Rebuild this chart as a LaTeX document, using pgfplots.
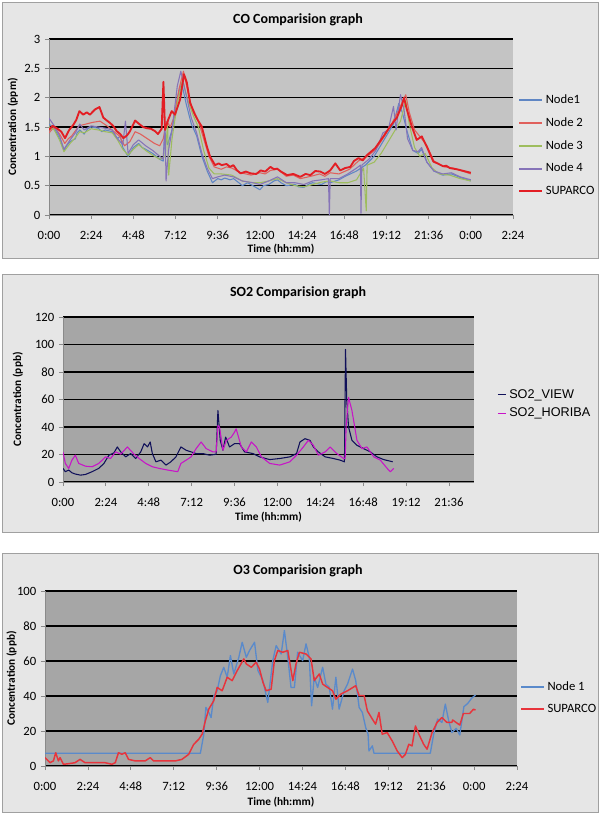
\documentclass[border=0pt]{standalone}
\usepackage{fontspec}
\setmainfont{Carlito}
\newfontfamily\arialf{Liberation Sans}
\usepackage{pgfplots}
\pgfplotsset{compat=1.18}

\definecolor{framebg}{HTML}{E6E6E6}
\definecolor{framebd}{HTML}{A0A0A0}
\definecolor{plotlight}{HTML}{C4C4C4}
\definecolor{plotdark}{HTML}{A6A6A6}
\definecolor{axgray}{HTML}{8A8A8A}
\definecolor{cnode1}{HTML}{5F86C4}
\definecolor{cnode2}{HTML}{E0605C}
\definecolor{cnode3}{HTML}{9EBD5E}
\definecolor{cnode4}{HTML}{8674B8}
\definecolor{csup}{HTML}{E31E24}
\definecolor{cview}{HTML}{10105A}
\definecolor{choriba}{HTML}{C814C8}
\definecolor{oblue}{HTML}{5A8ACB}
\definecolor{ored}{HTML}{E8343C}

\pgfplotsset{
  excelpanel/.style={
    scale only axis, anchor=south west,
    axis x line*=bottom, axis y line*=left,
    axis line style={draw=axgray, line width=0.6pt},
    tick style={draw=axgray, line width=0.6pt},
    tick align=outside, major tick length=3pt,
    ymajorgrids, grid style={black, line width=0.8pt},
    ticklabel style={font=\fontsize{9.5}{11}\selectfont},
    xticklabel style={yshift=-5.5pt},
    xlabel={Time (hh:mm)},
    label style={font=\fontsize{8.5}{10}\selectfont\bfseries},
    xlabel style={anchor=center},
    legend cell align=left,
    legend style={draw=none, fill=none, anchor=north west, inner sep=0pt,
      font=\fontsize{9.5}{11}\selectfont, row sep=5pt},
    legend image post style={line width=1.5pt},
    every axis plot/.append style={no markers, line join=round},
  },
  xhours/.style={
    xtick={0,2.4,4.8,7.2,9.6,12,14.4,16.8,19.2,21.6,24,26.4},
    xticklabels={0:00,2:24,4:48,7:12,9:36,12:00,14:24,16:48,19:12,21:36,0:00,2:24},
  },
}

\begin{document}
\begin{tikzpicture}[x=0.75pt,y=0.75pt]
\useasboundingbox (0,0) rectangle (600,-814);
\fill[white] (0,0) rectangle (600,-814);
\draw[framebd, fill=framebg, line width=0.75pt] (2,-2) rectangle (598,-258);
\draw[framebd, fill=framebg, line width=0.75pt] (2,-274) rectangle (598,-532);
\draw[framebd, fill=framebg, line width=0.75pt] (2,-553) rectangle (598,-812);
\coordinate (p1) at (49,-215);
\coordinate (p2) at (63,-482);
\coordinate (p3) at (45,-766);
\node[font=\fontsize{10.5}{12}\selectfont\bfseries] at (298,-20) {CO Comparision graph};
\node[font=\fontsize{10.5}{12}\selectfont\bfseries] at (298,-293) {SO2 Comparision graph};
\node[font=\fontsize{10.5}{12}\selectfont\bfseries] at (298,-571) {O3 Comparision graph};

% ---------------- CO ----------------
\begin{axis}[excelpanel, xhours, at={(p1)}, width=348pt, height=132pt,
  xmin=0, xmax=26.4, ymin=0, ymax=3,
  axis background/.style={fill=plotlight},
  ytick={0,0.5,1,1.5,2,2.5,3}, yticklabels={0,0.5,1,1.5,2,2.5,3},
  ylabel={Concentration (ppm)},
  ylabel style={at={(axis description cs:-0.078,0.5)}, anchor=center},
  xlabel style={at={(axis description cs:0.5,-0.193)}},
  legend style={at={(1.011,0.70)}}]
\addplot[cnode1, line width=0.8pt] coordinates {
(0,1.55)(0.3,1.48)(0.6,1.30)(0.85,1.10)(1.0,1.18)(1.2,1.25)(1.5,1.30)(1.6,1.40)(1.75,1.45)(2.0,1.38)(2.2,1.47)(2.4,1.50)(2.8,1.48)
(3.0,1.42)(3.2,1.45)(3.6,1.42)(3.9,1.30)(4.05,1.35)(4.2,1.15)(4.5,1.00)(4.8,1.15)(5.1,1.22)(5.3,1.15)(5.5,1.12)(5.9,1.05)(6.1,1.00)(6.3,0.95)
(6.5,0.92)(6.6,1.40)(6.75,1.20)(7.0,1.45)(7.3,2.00)(7.55,2.25)(7.8,1.90)(8.1,1.55)(8.4,1.35)(8.7,1.00)
(9.0,0.75)(9.3,0.55)(9.6,0.62)(9.8,0.60)(10.0,0.63)(10.3,0.60)(10.5,0.62)(10.8,0.55)(11.0,0.50)(11.3,0.55)(11.6,0.50)(12.0,0.43)(12.2,0.50)(12.5,0.52)(12.8,0.58)(13.0,0.60)
(13.2,0.55)(13.5,0.50)(14.0,0.52)(14.2,0.48)(14.5,0.47)(14.8,0.53)(15.0,0.55)(15.5,0.52)(15.8,0.57)(16.0,0.55)(16.5,0.60)(16.8,0.65)(17.0,0.68)(17.5,0.75)(18.0,0.85)
(18.5,1.00)(19.0,1.25)(19.3,1.40)(19.6,1.55)(19.9,1.90)(20.1,1.75)(20.4,1.40)(20.7,1.10)(21.0,1.05)(21.2,1.12)
(21.5,0.90)(21.9,0.75)(22.4,0.68)(22.9,0.70)(23.4,0.64)(24,0.58)};
\addlegendentry{Node1}
\addplot[cnode2, line width=0.8pt] coordinates {
(0,1.40)(0.3,1.50)(0.6,1.38)(0.9,1.22)(1.1,1.30)(1.3,1.35)(1.7,1.52)(2.1,1.55)(2.5,1.58)(2.9,1.60)(3.3,1.52)
(3.7,1.42)(4.0,1.35)(4.3,1.18)(4.6,1.25)(4.9,1.42)(5.2,1.38)(5.6,1.30)(6.0,1.22)(6.3,1.18)(6.5,1.30)
(6.7,1.60)(6.9,1.50)(7.1,1.65)(7.4,2.15)(7.65,2.45)(7.9,2.10)(8.2,1.75)(8.5,1.60)(8.8,1.30)(9.1,1.00)
(9.4,0.82)(9.8,0.78)(10.1,0.82)(10.4,0.80)(10.9,0.72)(11.5,0.68)(12.0,0.72)(12.3,0.70)(12.6,0.76)(13.0,0.78)(13.5,0.66)(13.9,0.68)(14.3,0.62)
(14.9,0.66)(15.4,0.70)(15.7,0.66)(16.0,0.72)(16.5,0.70)(17.1,0.78)(17.6,0.92)(18.1,1.00)(18.6,1.12)(19.1,1.35)(19.5,1.55)
(19.9,1.80)(20.3,2.05)(20.5,1.75)(20.8,1.45)(21.2,1.30)(21.5,1.18)(21.9,0.92)(22.5,0.82)(23.0,0.80)(23.5,0.75)(24,0.70)};
\addlegendentry{Node 2}
\addplot[cnode3, line width=0.8pt] coordinates {
(0,1.50)(0.3,1.45)(0.6,1.28)(0.85,1.08)(1.2,1.22)(1.5,1.32)(1.75,1.42)(2.0,1.40)(2.4,1.47)(2.8,1.45)
(3.2,1.42)(3.6,1.40)(3.9,1.28)(4.2,1.12)(4.5,1.02)(4.8,1.12)(5.1,1.20)(5.5,1.10)(5.9,1.02)(6.3,0.95)
(6.6,1.00)(6.75,1.55)(6.81,0.68)(7.0,1.30)(7.3,1.90)(7.6,2.30)(7.9,1.95)(8.2,1.70)(8.5,1.50)(8.8,1.10)
(9.1,0.80)(9.4,0.70)(9.8,0.70)(10.4,0.68)(11.0,0.58)(11.6,0.55)(12.0,0.55)(12.5,0.58)(13.0,0.62)(13.5,0.55)
(14.0,0.50)(14.5,0.48)(15.0,0.52)(15.5,0.56)(16.0,0.58)(16.5,0.55)(17.0,0.55)(17.5,0.60)(17.9,0.80)(18.05,0.07)
(18.1,0.85)(18.5,0.90)(18.9,1.05)(19.3,1.25)(19.7,1.45)(20.0,1.60)(20.3,1.95)(20.5,1.55)(20.8,1.15)(21.1,1.00)
(21.4,1.05)(21.8,0.80)(22.2,0.70)(22.8,0.68)(23.4,0.62)(24,0.58)};
\addlegendentry{Node 3}
\addplot[cnode4, line width=0.8pt] coordinates {
(0,1.65)(0.3,1.52)(0.6,1.35)(0.85,1.12)(1.2,1.28)(1.5,1.40)(1.75,1.55)(2.0,1.45)(2.4,1.52)(2.8,1.50)
(3.2,1.48)(3.6,1.45)(3.9,1.30)(4.2,1.20)(4.35,1.60)(4.5,1.05)(4.8,1.20)(5.1,1.28)(5.5,1.18)(5.9,1.10)
(6.3,1.00)(6.5,0.95)(6.6,1.60)(6.66,0.58)(6.8,1.10)(7.0,1.45)(7.3,2.20)(7.5,2.45)(7.8,2.05)(8.1,1.65)
(8.4,1.40)(8.7,1.05)(9.0,0.80)(9.3,0.62)(9.6,0.65)(10.0,0.68)(10.5,0.65)(11.0,0.58)(11.6,0.55)(12.0,0.52)
(12.5,0.58)(13.0,0.65)(13.5,0.55)(14.0,0.55)(14.5,0.52)(15.0,0.58)(15.5,0.60)(15.9,0.62)(15.95,0.0)(16.0,0.62)
(16.5,0.62)(17.0,0.70)(17.5,0.80)(17.72,0.85)(17.75,0.03)(17.8,0.85)(18.2,0.95)(18.6,1.10)(19.0,1.40)(19.3,1.45)
(19.6,1.85)(19.75,1.45)(19.9,1.85)(20.0,2.05)(20.2,1.80)(20.4,1.30)(20.7,1.10)(21.0,1.08)(21.2,1.15)(21.5,0.90)
(21.9,0.75)(22.4,0.70)(22.9,0.72)(23.4,0.65)(24,0.60)};
\addlegendentry{Node 4}
\addplot[csup, line width=1.4pt] coordinates {
(0,1.45)(0.2,1.52)(0.44,1.48)(0.7,1.42)(0.91,1.31)(1.15,1.45)(1.39,1.54)(1.55,1.62)(1.73,1.77)(1.95,1.71)(2.15,1.75)(2.33,1.71)(2.62,1.80)(2.87,1.84)(3.09,1.66)
(3.25,1.62)(3.47,1.57)(3.65,1.52)(3.85,1.43)(4.05,1.38)(4.23,1.31)(4.45,1.36)(4.61,1.43)(4.90,1.61)(5.18,1.54)(5.35,1.50)(5.56,1.48)(5.8,1.47)(6.03,1.43)(6.2,1.38)(6.41,1.47)(6.51,2.27)
(6.60,1.45)(6.79,1.63)(6.98,1.77)(7.17,1.71)(7.46,1.97)(7.68,2.40)(7.84,2.26)(8.03,1.91)(8.31,1.71)(8.5,1.60)(8.69,1.51)
(8.98,1.17)(9.17,0.99)(9.45,0.85)(9.65,0.88)(9.83,0.85)(10.1,0.87)(10.3,0.82)(10.49,0.85)(10.7,0.76)(10.9,0.71)(11.2,0.74)(11.47,0.71)(11.8,0.70)
(12.04,0.76)(12.3,0.74)(12.6,0.82)(12.8,0.78)(12.98,0.79)(13.2,0.74)(13.55,0.68)(13.9,0.70)(14.3,0.65)(14.6,0.70)(14.87,0.68)(15.15,0.75)(15.44,0.74)
(15.7,0.70)(16.0,0.76)(16.29,0.88)(16.57,0.76)(16.85,0.80)(17.14,0.82)(17.35,0.92)(17.61,0.97)(17.85,0.93)(18.09,1.02)
(18.56,1.14)(19.03,1.34)(19.41,1.51)(19.79,1.66)(20.07,1.86)(20.2,2.0)(20.36,1.80)(20.64,1.51)(20.92,1.28)(21.21,1.34)
(21.49,1.17)(21.87,0.91)(22.1,0.88)(22.43,0.83)(22.6,0.84)(22.81,0.80)(23.2,0.78)(23.6,0.75)(24,0.72)};
\addlegendentry{SUPARCO}
\end{axis}

% ---------------- SO2 ----------------
\begin{axis}[excelpanel, at={(p2)}, width=308.25pt, height=123.75pt,
  xmin=0, xmax=23, ymin=0, ymax=120,
  axis background/.style={fill=plotdark},
  xtick={0,2.4,4.8,7.2,9.6,12,14.4,16.8,19.2,21.6},
  xticklabels={0:00,2:24,4:48,7:12,9:36,12:00,14:24,16:48,19:12,21:36},
  ytick={0,20,40,60,80,100,120}, yticklabels={0,20,40,60,80,100,120},
  ylabel={Concentration (ppb)},
  ylabel style={at={(axis description cs:-0.11,0.5)}, anchor=center},
  xlabel style={at={(axis description cs:0.5,-0.212)}},
  legend style={at={(1.056,0.58)}, font=\arialf\fontsize{9.5}{11}\selectfont, row sep=2pt},
  legend image post style={line width=1pt},
  legend image code/.code={\draw[#1] (0pt,0pt) -- (6pt,0pt);}]
\addplot[cview, line width=0.8pt] coordinates {
(0,9.9)(0.13,7.5)(0.32,8.7)(0.5,6.7)(0.69,5.8)(0.98,5.0)(1.26,5.5)(1.63,7.5)(2.0,9.9)(2.29,13.5)
(2.57,19.5)(2.85,21.2)(3.04,25.5)(3.23,21.9)(3.51,18.3)(3.79,20.7)(4.07,17.1)(4.35,21.9)(4.54,27.9)(4.73,25.5)
(4.88,29.1)(5.0,20.7)(5.2,14.7)(5.48,15.9)(5.76,12.3)(6.04,14.7)(6.32,18.3)(6.6,25.5)(6.89,23.1)(7.17,21.9)
(7.45,20.7)(7.82,20.7)(8.2,19.5)(8.57,20.2)(8.67,52)(8.8,30.3)(8.95,23.1)(9.1,32.7)(9.32,25.5)(9.6,27.9)
(9.88,27.9)(10.16,21.9)(10.63,20.7)(11.0,18.3)(11.57,16.3)(12.13,17.1)(12.7,18.3)(13.07,20.7)(13.26,29.1)(13.54,31.5)
(13.82,30.3)(14.01,25.5)(14.29,21.9)(14.67,18.3)(15.13,17.1)(15.51,15.9)(15.75,14.7)(15.81,96.4)(15.88,59)(15.98,40)
(16.17,30.3)(16.45,26.7)(16.82,24.3)(17.2,21.9)(17.57,18.3)(17.95,16.3)(18.45,14.7)};
\addlegendentry{SO2\_VIEW}
\addplot[choriba, line width=0.8pt] coordinates {
(0,21.9)(0.13,13.5)(0.32,9.9)(0.5,15.9)(0.69,19.5)(0.88,13.5)(1.26,11.5)(1.63,11.1)(2.0,13.5)(2.38,18.3)
(2.66,17.1)(2.95,21.9)(3.23,20.2)(3.6,25.5)(3.98,20.2)(4.26,17.1)(4.63,13.5)(5.0,11.1)(5.38,9.9)(5.85,8.7)
(6.42,7.5)(6.6,13.5)(6.89,15.9)(7.17,18.3)(7.45,24.3)(7.73,29.1)(8.01,24.3)(8.39,21.9)(8.57,21.9)(8.67,41)
(8.76,40)(8.95,23.1)(9.14,30.3)(9.42,32.7)(9.6,36.3)(9.69,38.7)(9.98,25.5)(10.26,21.9)(10.54,29.1)(10.82,25.5)
(11.1,18.3)(11.57,13.5)(12.13,12.3)(12.7,14.7)(13.07,19.5)(13.45,25.5)(13.73,30.3)(14.01,26.7)(14.29,19.5)(14.67,21.9)
(14.95,25.5)(15.32,20.7)(15.7,17.1)(15.79,17.1)(15.85,42)(15.98,61.5)(16.17,52)(16.45,30.3)(16.73,24.3)(17.01,25.5)
(17.39,18.3)(17.76,15.9)(18.14,9.9)(18.32,7.5)(18.51,9.9)};
\addlegendentry{SO2\_HORIBA}
\end{axis}

% ---------------- O3 ----------------
\begin{axis}[excelpanel, xhours, at={(p3)}, width=354pt, height=131.25pt,
  xmin=0, xmax=26.4, ymin=0, ymax=100,
  axis background/.style={fill=plotdark},
  ytick={0,20,40,60,80,100}, yticklabels={0,20,40,60,80,100},
  ylabel={Concentration (ppb)},
  ylabel style={at={(axis description cs:-0.071,0.5)}, anchor=center},
  xlabel style={at={(axis description cs:0.5,-0.206)}},
  legend style={at={(1.006,0.50)}}]
\addplot[oblue, line width=1pt] coordinates {
(0,7.3)(8.69,7.3)(8.88,18)(9.0,33.5)(9.16,30.6)(9.29,27.7)(9.44,40)(9.63,43)(9.81,51.6)(10.0,56.4)
(10.19,50.7)(10.37,63.1)(10.56,52.6)(10.84,62.1)(11.03,70.7)(11.26,62.1)(11.44,66)(11.72,70.7)(11.91,54.5)(12.19,48.8)
(12.46,36.3)(12.74,60.2)(12.93,68.8)(13.21,64)(13.39,77.4)(13.58,62.1)(13.76,44.9)(13.95,44.9)(14.13,65)(14.41,60.2)
(14.6,69.8)(14.78,62.1)(14.91,34.4)(15.06,50.7)(15.25,44.9)(15.53,56.4)(15.71,46.8)(15.9,44.9)(16.08,32.5)(16.27,50.7)
(16.45,32.5)(16.73,43)(16.92,46.8)(17.2,55.4)(17.38,48.8)(17.57,33.5)(17.75,30.6)(17.94,21.9)(18.07,18.2)(18.12,8.6)
(18.31,11.5)(18.4,7.3)(21.55,7.3)(21.74,18.2)(21.96,26.8)(22.2,24.9)(22.39,35.4)(22.58,25.8)(22.76,19.1)(23.0,21.5)
(23.2,17.7)(23.43,33.9)(23.65,35.8)(23.86,38.7)(24.08,40.6)};
\addlegendentry{Node 1}
\addplot[ored, line width=1.1pt] coordinates {
(0,4.8)(0.28,1.9)(0.47,2.9)(0.6,7.6)(0.75,2.9)(0.84,4.8)(1.03,1.0)(1.31,1.3)(1.68,1.9)(1.96,3.8)
(2.24,1.9)(2.8,1.9)(3.36,1.9)(3.74,1.0)(3.93,1.9)(4.11,7.6)(4.3,6.7)(4.49,7.6)(4.67,3.8)(5.05,2.9)
(5.6,2.9)(5.89,4.8)(6.07,2.9)(6.73,2.9)(7.29,2.9)(7.66,3.8)(8.04,6.7)(8.32,12.4)(8.6,15.3)(8.79,18.2)
(8.97,25.8)(9.16,32.5)(9.44,37.3)(9.63,44.9)(9.91,43)(10.19,50.7)(10.47,48.8)(10.75,54.5)(11.12,61.2)(11.26,58.3)
(11.54,56.4)(11.81,59.3)(12.0,55.4)(12.19,47.8)(12.37,43)(12.65,43.9)(12.83,60.2)(13.02,66)(13.3,65)(13.58,66)
(13.86,48.8)(14.04,58.3)(14.23,65)(14.6,64)(14.88,61.2)(15.06,48.8)(15.34,52.6)(15.53,46.8)(15.8,44.9)(16.08,43)
(16.27,38.2)(16.55,41.1)(16.92,43)(17.38,45.9)(17.57,40.2)(17.85,40.2)(18.03,31.5)(18.31,26.8)(18.49,23.9)(18.68,30.6)
(18.86,18.2)(19.14,19.1)(19.42,14.3)(19.7,8.6)(19.98,4.8)(20.16,6.7)(20.35,12.4)(20.53,11.5)(20.72,22.9)(20.91,18.2)
(21.18,12.4)(21.37,9.6)(21.65,19.1)(21.93,24.9)(22.2,27.7)(22.48,24.9)(22.76,24.9)(22.8,26.3)(23.2,23.4)(23.4,30)
(23.75,30)(23.96,32.4)(24.08,32)};
\addlegendentry{SUPARCO}
\end{axis}
\end{tikzpicture}
\end{document}
